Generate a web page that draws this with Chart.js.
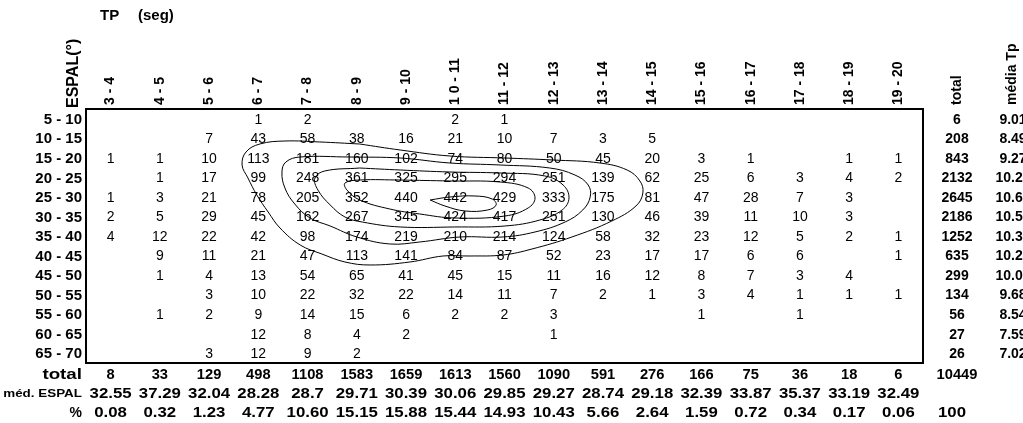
<!DOCTYPE html>
<html>
<head>
<meta charset="utf-8">
<script src="https://cdn.jsdelivr.net/npm/chart.js@4/dist/chart.umd.min.js"></script>
<style>
  html, body { margin: 0; padding: 0; background: #fff; overflow: hidden; }
  canvas { display: block; }
</style>
</head>
<body>
<canvas id="c" width="1023" height="423"></canvas>
<script>
// Peak period classes (seconds) – columns
const tpClasses = ["3 - 4", "4 - 5", "5 - 6", "6 - 7", "7 - 8", "8 - 9", "9 - 10", "1 0 - 11",
  "11 - 12", "12 - 13", "13 - 14", "14 - 15", "15 - 16", "16 - 17", "17 - 18", "18 - 19", "19 - 20"];
const tpLower = [3, 4, 5, 6, 7, 8, 9, 10, 11, 12, 13, 14, 15, 16, 17, 18, 19];

// Directional spread classes (degrees) – rows
const espalClasses = ["5 - 10", "10 - 15", "15 - 20", "20 - 25", "25 - 30", "30 - 35", "35 - 40",
  "40 - 45", "45 - 50", "50 - 55", "55 - 60", "60 - 65", "65 - 70"];
const espalLower = [5, 10, 15, 20, 25, 30, 35, 40, 45, 50, 55, 60, 65];

// Occurrence counts, one array per ESPAL class (null = no occurrence)
const n = null;
const r05 = [n, n, n, 1, 2, n, n, 2, 1, n, n, n, n, n, n, n, n];
const r10 = [n, n, 7, 43, 58, 38, 16, 21, 10, 7, 3, 5, n, n, n, n, n];
const r15 = [1, 1, 10, 113, 181, 160, 102, 74, 80, 50, 45, 20, 3, 1, n, 1, 1];
const r20 = [n, 1, 17, 99, 248, 361, 325, 295, 294, 251, 139, 62, 25, 6, 3, 4, 2];
const r25 = [1, 3, 21, 78, 205, 352, 440, 442, 429, 333, 175, 81, 47, 28, 7, 3, n];
const r30 = [2, 5, 29, 45, 162, 267, 345, 424, 417, 251, 130, 46, 39, 11, 10, 3, n];
const r35 = [4, 12, 22, 42, 98, 174, 219, 210, 214, 124, 58, 32, 23, 12, 5, 2, 1];
const r40 = [n, 9, 11, 21, 47, 113, 141, 84, 87, 52, 23, 17, 17, 6, 6, n, 1];
const r45 = [n, 1, 4, 13, 54, 65, 41, 45, 15, 11, 16, 12, 8, 7, 3, 4, n];
const r50 = [n, n, 3, 10, 22, 32, 22, 14, 11, 7, 2, 1, 3, 4, 1, 1, 1];
const r55 = [n, 1, 2, 9, 14, 15, 6, 2, 2, 3, n, n, 1, n, 1, n, n];
const r60 = [n, n, n, 12, 8, 4, 2, n, n, 1, n, n, n, n, n, n, n];
const r65 = [n, n, 3, 12, 9, 2, n, n, n, n, n, n, n, n, n, n, n];
const counts = [r05, r10, r15, r20, r25, r30, r35, r40, r45, r50, r55, r60, r65];

// Marginal statistics
const rowTotals = [6, 208, 843, 2132, 2645, 2186, 1252, 635, 299, 134, 56, 27, 26];
const rowMeanTp = ["9.01", "8.49", "9.27", "10.23", "10.64", "10.52", "10.36", "10.22", "10.05", "9.68", "8.54", "7.59", "7.02"];
const colTotals = [8, 33, 129, 498, 1108, 1583, 1659, 1613, 1560, 1090, 591, 276, 166, 75, 36, 18, 6];
const colMedEspal = ["32.55", "37.29", "32.04", "28.28", "28.7", "29.71", "30.39", "30.06", "29.85", "29.27",
  "28.74", "29.18", "32.39", "33.87", "35.37", "33.19", "32.49"];
const colPercent = ["0.08", "0.32", "1.23", "4.77", "10.60", "15.15", "15.88", "15.44", "14.93", "10.43",
  "5.66", "2.64", "1.59", "0.72", "0.34", "0.17", "0.06"];
const grandTotal = "10449";
const grandPercent = "100";

// Isolines of the joint distribution, as [Tp (s), ESPAL (deg)] vertices
const iso1 = [[8.56,13.96],[9.38,15.49],[10.39,17.03],[11.51,17.54],[12.48,18.05],[13.44,18.82],[13.99,20.61],
  [14.25,23.42],[14.31,26.49],[14.17,29.82],[13.68,33.66],[12.87,37.75],[12.06,40.82],[11.47,42.36],[10.80,42.62],
  [10.25,42.62],[9.58,44.15],[8.77,44.92],[8.26,44.15],[7.79,42.10],[7.35,39.80],[6.94,35.45],[6.70,31.36],
  [6.47,27.01],[6.29,22.66],[6.17,19.33],[6.25,16.00],[6.53,13.96],[7.04,13.19],[7.75,13.44],[8.56,13.96]];
const iso2 = [[8.36,17.28],[9.38,17.54],[10.39,18.82],[11.41,19.33],[12.42,20.10],[12.93,21.89],[13.20,24.45],
  [13.24,27.52],[13.09,30.84],[12.73,33.92],[12.12,36.47],[11.47,37.75],[10.60,37.75],[9.78,39.03],[9.17,39.54],
  [8.50,37.75],[7.96,34.94],[7.55,32.89],[7.24,29.31],[7.04,25.21],[6.98,21.12],[7.06,18.56],[7.35,17.28],[8.36,17.28]];
const iso3 = [[8.56,20.10],[9.38,20.61],[10.39,21.12],[11.41,21.38],[12.32,22.14],[12.69,24.45],[12.81,27.77],
  [12.67,30.84],[12.22,33.40],[11.51,34.94],[10.49,35.19],[9.38,35.19],[8.61,33.92],[8.26,32.64],[7.96,29.56],
  [7.71,25.73],[7.65,22.66],[7.85,20.86],[8.56,20.10]];
const iso4 = [[9.38,23.17],[10.39,23.42],[11.41,23.68],[11.98,25.21],[12.12,27.77],[11.98,30.33],[11.51,32.38],
  [10.49,32.89],[9.78,31.87],[9.17,30.59],[8.56,28.29],[8.30,25.73],[8.26,23.94],[8.56,23.17],[9.38,23.17]];
const iso5 = [[9.99,28.29],[10.39,27.52],[10.90,27.26],[11.25,28.03],[11.33,29.56],[11.16,30.84],[10.70,31.10],
  [10.29,29.82],[9.99,28.29]];

const FONT = "'Liberation Sans', Arial, Helvetica, sans-serif";
const toPts = arr => arr.map(p => ({ x: p[0], y: p[1] }));
const isoDataset = arr => ({
  data: toPts(arr),
  borderColor: '#000',
  borderWidth: 1,
  pointRadius: 0,
  tension: 0.4,
  fill: false
});

// Table text, frame and axis titles, positioned through the chart scales
const tablePlugin = {
  id: 'tableText',
  afterDraw(chart) {
    const ctx = chart.ctx;
    const xs = chart.scales.x, ys = chart.scales.y;
    const area = chart.chartArea;
    const colX = i => xs.getPixelForValue(tpLower[i] + 0.5);
    const rowY = j => ys.getPixelForValue(espalLower[j] + 2.5) + 1;

    // text with an optional horizontal stretch
    const text = (txt, x, y, font, align, sx) => {
      ctx.save();
      ctx.font = font;
      ctx.textAlign = align;
      ctx.textBaseline = 'middle';
      ctx.translate(x, y);
      ctx.scale(sx || 1, 1);
      ctx.fillText(txt, 0, 0);
      ctx.restore();
    };
    const vtext = (txt, x, yStart, font) => {
      ctx.save();
      ctx.font = font;
      ctx.translate(x, yStart);
      ctx.rotate(-Math.PI / 2);
      ctx.textAlign = 'left';
      ctx.textBaseline = 'middle';
      ctx.fillText(txt, 0, 0);
      ctx.restore();
    };

    ctx.save();
    ctx.fillStyle = '#000';

    // frame
    ctx.strokeStyle = '#000';
    ctx.lineWidth = 2;
    ctx.strokeRect(area.left, area.top, area.right - area.left, area.bottom - area.top);

    // cell counts
    const cellFont = '14px ' + FONT;
    counts.forEach((row, j) => {
      row.forEach((v, i) => {
        if (v !== null) text(String(v), colX(i), rowY(j), cellFont, 'center');
      });
    });

    // row labels
    const rowFont = 'bold 15px ' + FONT;
    espalClasses.forEach((lab, j) => text(lab, area.left - 4, rowY(j), rowFont, 'right'));

    // column headers (vertical)
    const hdrFont = 'bold 14px ' + FONT;
    tpClasses.forEach((lab, i) => vtext(lab, colX(i), area.top - 4, hdrFont));
    const totX = area.right + 34;
    const meanX = area.right + 90;
    vtext('total', totX, area.top - 4, hdrFont);
    vtext('média Tp', meanX - 1, area.top - 4, hdrFont);
    vtext('ESPAL(°)', area.left - 12, area.top - 1, 'bold 16px ' + FONT);

    // title
    text('TP', 100, 16, 'bold 15px ' + FONT, 'left');
    text('(seg)', 138, 16, 'bold 15px ' + FONT, 'left');

    // right margins
    const sideFont = 'bold 14px ' + FONT;
    rowTotals.forEach((v, j) => text(String(v), totX, rowY(j), sideFont, 'center'));
    rowMeanTp.forEach((v, j) => text(v, meanX, rowY(j), sideFont, 'center'));

    // bottom margins
    const yTot = area.bottom + 12, yMed = area.bottom + 31, yPct = area.bottom + 50;
    const botFont = 'bold 15px ' + FONT;
    const sx = 1.12;
    colTotals.forEach((v, i) => text(String(v), colX(i), yTot, 'bold 14px ' + FONT, 'center', 1.05));
    colMedEspal.forEach((v, i) => text(v, colX(i), yMed, botFont, 'center', sx));
    colPercent.forEach((v, i) => text(v, colX(i), yPct, botFont, 'center', sx));
    text(grandTotal, totX, yTot, 'bold 14px ' + FONT, 'center', 1.05);
    text(grandPercent, totX - 5, yPct, botFont, 'center', sx);

    text('total', area.left - 4, yTot, 'bold 15px ' + FONT, 'right', 1.25);
    text('%', area.left - 4, yPct, 'bold 14px ' + FONT, 'right');
    text('méd. ESPAL', area.left - 4, yMed, 'bold 11px ' + FONT, 'right', 1.22);
    ctx.restore();
  }
};

new Chart(document.getElementById('c'), {
  type: 'line',
  data: { datasets: [iso1, iso2, iso3, iso4, iso5].map(isoDataset) },
  options: {
    responsive: false,
    animation: false,
    devicePixelRatio: 1,
    layout: { padding: { left: 86, top: 109, right: 100, bottom: 60 } },
    plugins: { legend: { display: false }, tooltip: { enabled: false } },
    scales: {
      x: { type: 'linear', min: 3, max: 20, display: false },
      y: { type: 'linear', min: 5, max: 70, reverse: true, display: false }
    }
  },
  plugins: [tablePlugin]
});
</script>
</body>
</html>
